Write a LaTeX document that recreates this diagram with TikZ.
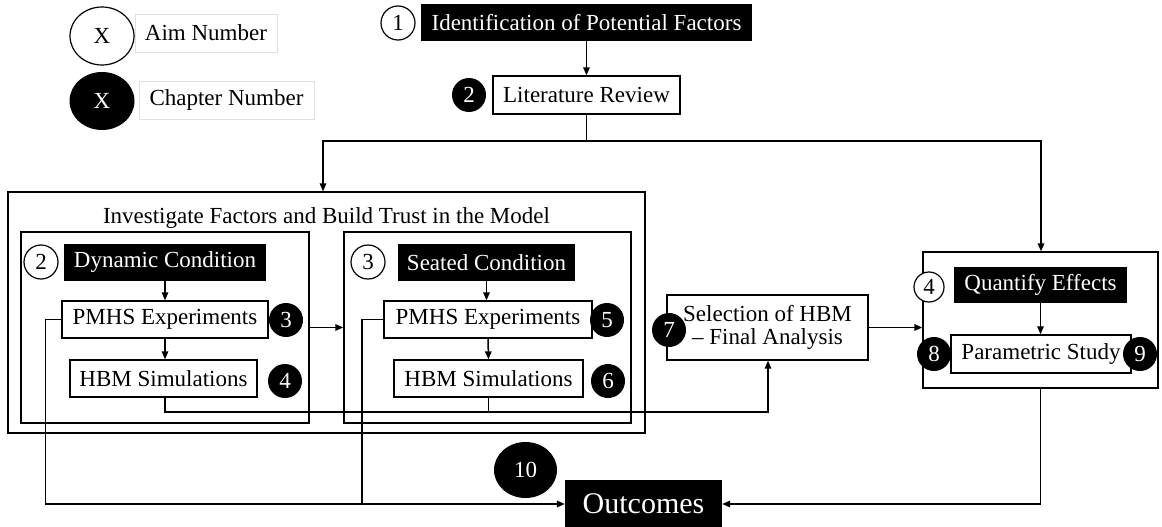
\documentclass[tikz,border=0pt]{standalone}
\usepackage{fontspec}
\setmainfont{Liberation Serif}
\usetikzlibrary{arrows.meta,shapes.geometric}
\begin{document}
\begin{tikzpicture}[x=1pt,y=-1pt,
  every node/.style={font=\fontsize{23}{25}\selectfont, inner sep=0pt},
  wbox/.style={draw, line width=1.3pt, fill=white, rectangle},
  bbox/.style={fill=black, text=white, rectangle},
  frame/.style={draw, line width=1.3pt, rectangle},
  legbox/.style={draw=black!12, line width=0.8pt, rectangle},
  aim/.style={circle, draw, line width=1.2pt, fill=white, minimum size=34pt},
  chap/.style={circle, fill=black, text=white, minimum size=34pt},
  arr/.style={line width=1.5pt, -{Triangle[length=8pt,width=6.5pt]}},
  ln/.style={line width=1.5pt}
]
\useasboundingbox (0,0) rectangle (1162,527);

% legend
\node[ellipse, draw, line width=1.2pt, minimum width=64pt, minimum height=58pt] (la) at (102,36) {X};
\node[legbox, minimum width=142pt, minimum height=38pt] (lat) at (206,33) {Aim Number};
\node[ellipse, fill=black, text=white, minimum width=65pt, minimum height=58pt] (lc) at (102,101) {X};
\node[legbox, minimum width=175pt, minimum height=38pt] (lct) at (226.5,100) {Chapter Number};

% top
\node[bbox, minimum width=331pt, minimum height=37pt] (idf) at (586.5,22.5) {Identification of Potential Factors};
\node[aim] (c1) at (398,23) {1};
\node[wbox, minimum width=187pt, minimum height=38pt] (lit) at (586.5,95) {Literature Review};
\node[chap] (c2t) at (469,95) {2};
\coordinate (jl) at (323,141);
\coordinate (jr) at (1041,141);

% investigate frame
\node[frame, minimum width=637pt, minimum height=241pt] (outer) at (326.5,312.5) {};
\node (title) at (326.5,218) {Investigate Factors and Build Trust in the Model};
\node[frame, minimum width=288pt, minimum height=191pt] (inL) at (165,327.5) {};
\node[frame, minimum width=287pt, minimum height=191pt] (inR) at (487.5,327.5) {};

% left inner
\node[bbox, minimum width=202pt, minimum height=37pt] (dyn) at (165,262.5) {Dynamic Condition};
\node[aim] (c2a) at (41,262) {2};
\node[wbox, minimum width=206pt, minimum height=37pt] (pm1) at (165,319.5) {PMHS Experiments};
\node[chap] (c3) at (286,320) {3};
\node[wbox, minimum width=187pt, minimum height=37pt] (hb1) at (163.5,378.5) {HBM Simulations};
\node[chap] (c4) at (285,381) {4};

% right inner
\node[bbox, minimum width=177pt, minimum height=37pt] (seat) at (486.5,262.5) {Seated Condition};
\node[aim] (c3b) at (368,262) {3};
\node[wbox, minimum width=208pt, minimum height=37pt] (pm2) at (488,319.5) {PMHS Experiments};
\node[chap] (c5) at (607,320) {5};
\node[wbox, minimum width=189pt, minimum height=37pt] (hb2) at (488.5,378.5) {HBM Simulations};
\node[chap] (c6) at (608,381) {6};

% selection
\node[wbox, minimum width=201pt, minimum height=65pt, align=center] (sel) at (767.5,327.5) {Selection of HBM\\[-2pt] -- Final Analysis};
\node[chap] (c7) at (669,330) {7};

% quantify
\node[frame, minimum width=235pt, minimum height=136pt] (qbox) at (1040.5,320) {};
\node[bbox, minimum width=173pt, minimum height=36pt] (quant) at (1040.5,285) {Quantify Effects};
\node[aim, minimum size=30pt] (c4b) at (929,287) {4};
\node[wbox, minimum width=180pt, minimum height=38pt] (par) at (1041,354) {Parametric Study};
\node[chap] (c8) at (934,354) {8};
\node[chap] (c9) at (1140,354) {9};

% outcomes
\node[ellipse, fill=black, text=white, minimum width=63pt, minimum height=56pt] (c10) at (525.5,470) {10};
\node[bbox, minimum width=157pt, minimum height=48pt, font=\fontsize{30}{32}\selectfont] (out) at (643.5,504) {Outcomes};

\coordinate (busb) at (768,412);
\coordinate (fl) at (45.5,504);
\coordinate (fr) at (362,504);

% connectors
\draw[arr] (idf.south) -- (lit.north);
\draw[arr] (lit.south) |- (jl) -- (jl |- outer.north);
\draw[arr] (lit.south) |- (jr) -- (jr |- qbox.north);
\draw[arr] (dyn.south) -- (pm1.north);
\draw[arr] (pm1.south) -- (pm1.south |- hb1.north);
\draw[arr] (seat.south) -- (seat.south |- pm2.north);
\draw[arr] (pm2.south) -- (hb2.north);
\draw[arr] (inL.east) -- (inR.west);
\draw[arr] (hb1.south -| pm1.south) |- (busb) -- (sel.south -| busb);
\draw[ln] (hb2.south) -- (hb2.south |- busb);
\draw[arr] (sel.east) -- (sel.east -| qbox.west);
\draw[arr] (quant.south) -- (quant.south |- par.north);
\draw[arr] (qbox.south) |- (out.east);
\draw[arr] (pm1.west) -| (fl) -- (out.west);
\draw[ln] (pm2.west) -| (fr);
\end{tikzpicture}
\end{document}
